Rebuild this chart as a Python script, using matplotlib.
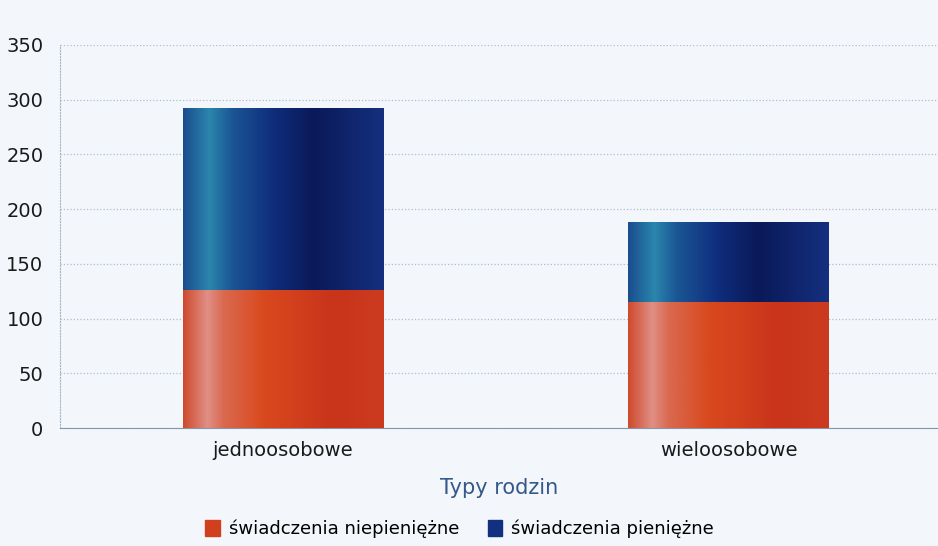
import numpy as np
import matplotlib.pyplot as plt
from matplotlib.colors import LinearSegmentedColormap
from matplotlib.patches import Patch

kategorie = ['jednoosobowe', 'wieloosobowe']
niepieniezne = [126, 115]
pieniezne = [166, 73]
etykiety = ['świadczenia niepieniężne', 'świadczenia pieniężne']

bg = '#f3f7fb'
fig = plt.figure(figsize=(9.38, 5.46), dpi=100, facecolor=bg)
ax = fig.add_axes([0.064, 0.216, 0.936, 0.702])
ax.set_facecolor(bg)

x = np.arange(len(kategorie))
w = 0.45
b1 = ax.bar(x, niepieniezne, w, color='#d0401f', zorder=2)
b2 = ax.bar(x, pieniezne, w, bottom=niepieniezne, color='#123080', zorder=2)

# cylindryczny gradient na slupkach
cm_red = LinearSegmentedColormap.from_list('r', [
    (0, '#cf4a2c'), (0.12, '#e08f86'), (0.2, '#d96a50'),
    (0.4, '#d9491f'), (0.75, '#c9341a'), (1, '#cc3b20')])
cm_blue = LinearSegmentedColormap.from_list('b', [
    (0, '#1a4d8e'), (0.13, '#2b86ad'), (0.24, '#1b5795'),
    (0.45, '#0f2d7c'), (0.65, '#0a1958'), (1, '#15307f')])
grad = np.linspace(0, 1, 256).reshape(1, -1)
for bars, cm in ((b1, cm_red), (b2, cm_blue)):
    for p in bars:
        im = ax.imshow(grad, cmap=cm, aspect='auto', zorder=3,
                       extent=[p.get_x(), p.get_x() + p.get_width(),
                               p.get_y(), p.get_y() + p.get_height()])
        im.set_clip_path(p)

ax.set_xlim(-0.5, 1.47)
ax.set_ylim(0, 350)
ax.set_yticks(np.arange(0, 351, 50))
ax.set_xticks(x)
ax.set_xticklabels(kategorie)
ax.tick_params(axis='both', length=0, labelsize=14, colors='#1a1a1a')
ax.tick_params(axis='y', pad=12)
ax.tick_params(axis='x', pad=9)
ax.yaxis.grid(True, linestyle=':', color='#b0bccb', linewidth=0.9, zorder=0)
for s in ('top', 'right'):
    ax.spines[s].set_visible(False)
ax.spines['left'].set_linestyle(':')
ax.spines['left'].set_color('#a8b5c5')
ax.spines['bottom'].set_color('#8595aa')

ax.set_xlabel('Typy rodzin', fontsize=15, color='#35588a')
ax.xaxis.set_label_coords(0.5, -0.13)

uchwyty = [Patch(color='#d0401f'), Patch(color='#123080')]
fig.legend(uchwyty, etykiety, loc='lower center', ncol=2, frameon=False,
           fontsize=13, bbox_to_anchor=(0.49, -0.015), handlelength=0.8,
           handleheight=1.0, handletextpad=0.5, columnspacing=1.6)

plt.savefig('out.png', dpi=100, facecolor=bg)
